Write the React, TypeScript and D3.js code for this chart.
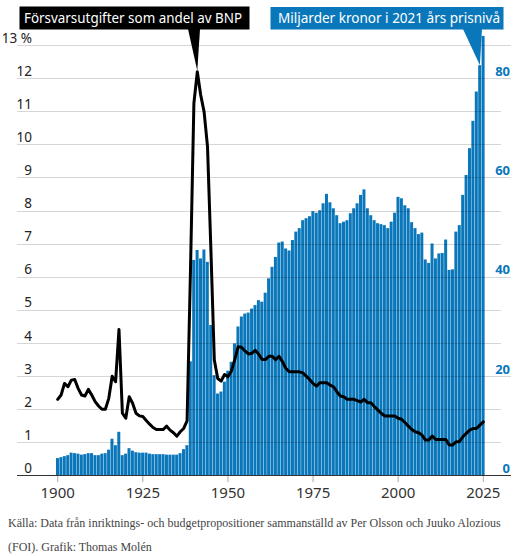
import React from 'react';
import * as d3 from 'd3';

const startYear = 1900;

// Försvarsutgifter som andel av BNP (%)
const sharePct = [
  2.30, 2.43, 2.78, 2.68, 2.88, 2.90, 2.63, 2.43, 2.40, 2.60,
  2.43, 2.23, 2.10, 2.00, 2.00, 2.33, 3.00, 2.83, 4.41, 1.88,
  1.73, 2.38, 2.18, 1.88, 1.80, 1.78, 1.66, 1.55, 1.45, 1.39,
  1.39, 1.39, 1.49, 1.37, 1.29, 1.19, 1.32, 1.42, 1.65, 6.20,
  11.24, 12.19, 11.49, 10.98, 9.93, 6.80, 3.49, 2.93, 2.85, 3.05,
  2.98, 3.15, 3.50, 3.89, 3.87, 3.76, 3.67, 3.69, 3.78, 3.67,
  3.50, 3.50, 3.60, 3.60, 3.50, 3.60, 3.44, 3.24, 3.13, 3.13,
  3.13, 3.13, 3.10, 3.00, 2.90, 2.78, 2.70, 2.80, 2.80, 2.80,
  2.73, 2.68, 2.53, 2.40, 2.38, 2.30, 2.30, 2.30, 2.26, 2.22,
  2.30, 2.20, 2.20, 2.08, 1.98, 1.88, 1.80, 1.80, 1.80, 1.80,
  1.73, 1.70, 1.60, 1.49, 1.39, 1.32, 1.29, 1.22, 1.07, 1.07,
  1.19, 1.09, 1.09, 1.09, 1.09, 0.92, 0.92, 1.02, 1.02, 1.17,
  1.27, 1.37, 1.42, 1.42, 1.52, 1.62,
];

// Miljarder kronor i 2021 års prisnivå
const billionsSEK = [
  3.5, 3.7, 3.9, 4.1, 4.6, 4.5, 4.4, 4.2, 4.3, 4.5,
  4.5, 4.1, 4.1, 4.4, 4.5, 5.2, 7.4, 6.1, 8.8, 4.1,
  4.4, 5.5, 5.0, 4.7, 4.6, 4.6, 4.6, 4.4, 4.3, 4.3,
  4.3, 4.3, 4.2, 4.2, 4.2, 4.2, 4.5, 5.3, 6.1, 23.0,
  43.4, 45.4, 43.7, 45.5, 43.0, 30.3, 20.2, 16.5, 16.9, 18.9,
  21.1, 22.9, 26.6, 30.0, 32.0, 32.6, 32.8, 33.6, 34.3, 35.3,
  35.0, 36.8, 39.7, 42.0, 44.0, 46.9, 47.1, 45.7, 45.3, 47.4,
  49.1, 49.8, 51.4, 51.8, 52.2, 53.2, 52.9, 53.4, 54.8, 56.7,
  55.0, 53.8, 52.4, 50.8, 51.1, 51.4, 52.8, 53.8, 54.8, 56.5,
  57.6, 53.8, 52.4, 51.4, 50.8, 50.6, 50.4, 49.8, 51.1, 52.9,
  56.1, 55.8, 54.4, 53.8, 51.0, 49.8, 48.6, 48.9, 43.5, 42.8,
  46.7, 43.7, 44.7, 44.8, 47.5, 41.4, 41.5, 49.1, 50.4, 56.5,
  60.5, 65.9, 71.4, 77.3, 82.6, 88.5,
];

const leftTicks = [0, 1, 2, 3, 4, 5, 6, 7, 8, 9, 10, 11, 12, 13];
const rightTicks = [0, 20, 40, 60, 80];
const xTicks = [1900, 1925, 1950, 1975, 2000, 2025];

const shareTitle = 'Försvarsutgifter som andel av BNP';
const sekTitle = 'Miljarder kronor i 2021 års prisnivå';
const sourceLine1 = 'Källa: Data från inriktnings- och budgetpropositioner sammanställd av Per Olsson och Juuko Alozious';
const sourceLine2 = '(FOI). Grafik: Thomas Molén';

const W = 514;
const H = 556;
const BLUE = '#0a77bb';
const SANS = "'Noto Sans', 'Open Sans', sans-serif";
const SERIF = "'Liberation Serif', 'DejaVu Serif', serif";

export default function App() {
  const years = sharePct.map((_, i) => startYear + i);
  const x = d3.scaleLinear().domain([1900, 2025]).range([57.7, 483.3]);
  const yL = d3.scaleLinear().domain([0, 13]).range([475.5, 45]);
  const yR = d3.scaleLinear().domain([0, (13 * 20) / 3]).range([475.5, 45]);
  const step = x(1901) - x(1900);
  const bw = step - 0.4;

  const line = d3
    .line<number>()
    .x((_, i) => x(years[i]))
    .y((d) => yL(d))
    .curve(d3.curveLinear);

  const peakIdx = sharePct.indexOf(d3.max(sharePct) as number);
  const peakX = x(years[peakIdx]);
  const peakY = yL(sharePct[peakIdx]);
  const barTipIdx = billionsSEK.length - 2;
  const tipX = x(years[barTipIdx]);
  const tipY = yR(billionsSEK[barTipIdx]);

  const rightLevels = rightTicks.map((t) => (t * 3) / 20);

  return (
    <div style={{ position: 'absolute', left: 0, top: 0, width: W, height: H, background: '#fff', overflow: 'hidden' }}>
      <svg width={W} height={H} style={{ display: 'block' }}>
        {/* bars */}
        <g>
          {billionsSEK.map((v, i) => (
            <rect
              key={i}
              x={x(years[i]) - step / 2}
              y={yR(v)}
              width={bw}
              height={yR(0) - yR(v)}
              fill={BLUE}
            />
          ))}
        </g>
        {/* gridlines */}
        <g>
          {leftTicks.slice(1).map((t) => (
            <line
              key={t}
              x1={17}
              x2={rightLevels.includes(t) || t === 13 ? 511 : 501}
              y1={Math.round(yL(t)) + 0.5}
              y2={Math.round(yL(t)) + 0.5}
              stroke="rgba(0,0,0,0.16)"
              strokeWidth={1}
            />
          ))}
        </g>
        {/* base axis */}
        <line x1={17} x2={511} y1={475.5} y2={475.5} stroke="#333" strokeWidth={1} />
        {xTicks.map((t) => (
          <g key={t}>
            <line x1={x(t)} x2={x(t)} y1={476} y2={482} stroke="#aaa" strokeWidth={1} />
            <text x={x(t)} y={498} textAnchor="middle" fontFamily={SANS} fontSize={15} fill="#333">
              {t}
            </text>
          </g>
        ))}
        {/* left labels */}
        {leftTicks.map((t) => (
          <text key={t} x={32} y={yL(t) - 2.5} textAnchor="end" fontFamily={SANS} fontSize={13.5} fill="#222">
            {t}
            {t === 13 ? <tspan> %</tspan> : null}
          </text>
        ))}
        {/* right labels */}
        {rightTicks.map((t) => (
          <text
            key={t}
            x={510}
            y={yR(t) - 2.5}
            textAnchor="end"
            fontFamily={SANS}
            fontSize={13}
            fontWeight="bold"
            fill={BLUE}
          >
            {t}
          </text>
        ))}
        {/* line */}
        <path d={line(sharePct) ?? ''} fill="none" stroke="#000" strokeWidth={3} strokeLinejoin="round" strokeLinecap="round" />

        {/* black annotation */}
        <path d={`M188,29 L200,29 L${peakX},${peakY - 1} Z`} fill="#000" />
        <rect x={19.5} y={6.5} width={230} height={23} fill="#000" />
        <text x={24} y={23} fontFamily={SANS} fontSize={14} fill="#fff" textLength={218} lengthAdjust="spacingAndGlyphs">
          {shareTitle}
        </text>

        {/* blue annotation */}
        <path d={`M463,29 L482,29 L${tipX},${tipY} Z`} fill={BLUE} />
        <rect x={270.5} y={7} width={233} height={22.5} fill={BLUE} />
        <text x={278} y={23} fontFamily={SANS} fontSize={14} fill="#fff" textLength={222} lengthAdjust="spacingAndGlyphs">
          {sekTitle}
        </text>

        {/* source */}
        <text x={8} y={527} fontFamily={SERIF} fontSize={12} fill="#444">
          {sourceLine1}
        </text>
        <text x={8} y={551} fontFamily={SERIF} fontSize={12} fill="#444">
          {sourceLine2}
        </text>
      </svg>
    </div>
  );
}
